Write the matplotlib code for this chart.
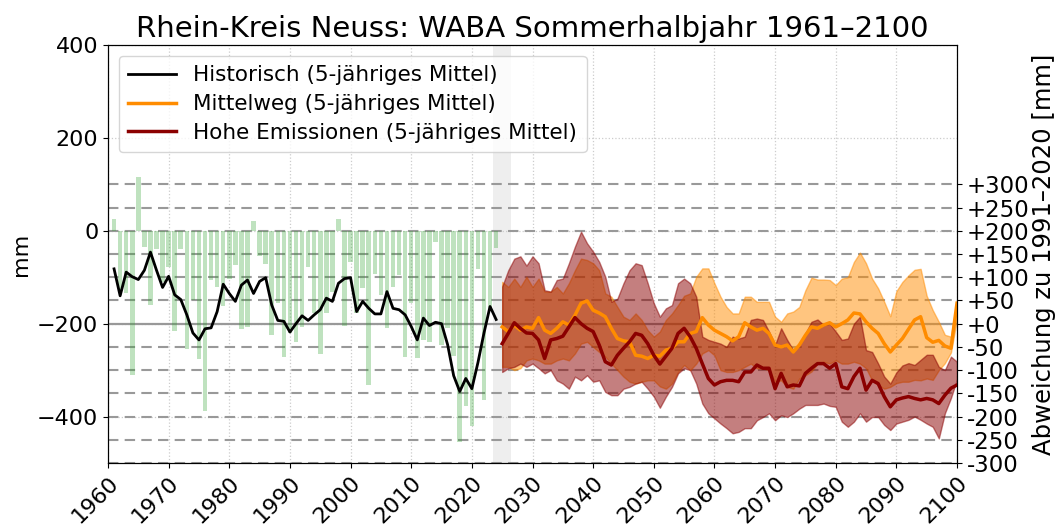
import numpy as np
import matplotlib
matplotlib.use("Agg")
import matplotlib.pyplot as plt

# ---------------- data ----------------
hist_years = list(range(1961, 2025))
hist_annual = [25, -135, -133, -311, 116, -36, -160, -40, -110, -79,
               -215, -40, -255, -150, -275, -387, -106, -121, -163, -103,
               -74, -211, -207, 21, -55, -72, -225, -156, -271, -220,
               -240, -207, -78, -177, -266, -177, -131, 26, -206, -67,
               -177, -124, -333, -92, -138, -209, -122, -95, -272, -155,
               -273, -235, -240, -25, -245, -209, -270, -454, -377, -420,
               -82, -365, -171, -37]
hist_mean5 = [-82, -140, -89, -99, -105, -85, -46, -85, -122, -98,
              -138, -148, -181, -220, -235, -211, -209, -174, -115, -135,
              -152, -117, -106, -135, -109, -101, -160, -193, -195, -218,
              -200, -183, -193, -181, -170, -145, -152, -113, -103, -101,
              -174, -152, -167, -179, -179, -131, -167, -170, -181, -206,
              -235, -188, -204, -197, -200, -245, -312, -346, -318, -340,
              -284, -220, -163, -191]

proj_years = list(range(2025, 2101))
mittel_mean = [-207, -217, -203, -214, -207, -210, -187, -214, -221, -210,
               -196, -203, -182, -156, -151, -171, -177, -185, -210, -232,
               -237, -239, -268, -270, -275, -268, -270, -257, -253, -239,
               -239, -221, -217, -187, -203, -214, -221, -228, -237, -228,
               -198, -207, -214, -210, -221, -246, -250, -246, -261, -246,
               -225, -207, -210, -203, -198, -207, -200, -192, -177, -179,
               -196, -210, -221, -243, -261, -246, -232, -212, -192, -185,
               -230, -240, -236, -248, -253, -156]
mittel_hi = [-110, -121, -103, -121, -99, -121, -103, -131, -131, -121,
             -135, -113, -85, -60, -63, -70, -85, -135, -142, -164,
             -185, -192, -178, -192, -214, -228, -217, -192, -178, -160,
             -140, -135, -99, -81, -81, -113, -142, -164, -178, -178,
             -142, -142, -153, -153, -153, -185, -196, -178, -174, -164,
             -128, -101, -105, -105, -106, -117, -103, -100, -67, -47,
             -70, -103, -124, -153, -184, -130, -110, -96, -84, -82,
             -140, -171, -196, -224, -228, -149]
mittel_lo = [-293, -293, -300, -296, -279, -275, -279, -286, -286, -279,
             -275, -279, -264, -243, -239, -250, -261, -271, -286, -300,
             -314, -325, -329, -325, -322, -322, -335, -340, -329, -304,
             -289, -300, -286, -264, -257, -268, -300, -304, -304, -300,
             -293, -286, -296, -296, -300, -325, -322, -336, -340, -318,
             -311, -303, -286, -282, -286, -279, -286, -286, -282, -286,
             -296, -322, -332, -340, -336, -328, -325, -325, -321, -322,
             -318, -321, -300, -285, -262, -190]
hohe_mean = [-243, -221, -198, -210, -220, -221, -235, -275, -235, -232,
             -227, -207, -187, -200, -210, -217, -246, -282, -289, -268,
             -253, -239, -221, -225, -243, -268, -287, -270, -253, -221,
             -210, -228, -253, -286, -318, -332, -325, -322, -322, -325,
             -304, -304, -289, -296, -296, -340, -307, -336, -332, -334,
             -307, -296, -286, -286, -296, -286, -336, -340, -314, -296,
             -343, -322, -329, -357, -379, -364, -360, -357, -361, -364,
             -361, -364, -372, -354, -339, -332]
hohe_hi = [-120, -85, -60, -55, -75, -55, -70, -128, -131, -106,
           -103, -70, -34, -2, -27, -45, -67, -99, -153, -146,
           -113, -85, -70, -74, -113, -156, -185, -167, -160, -113,
           -103, -113, -142, -228, -235, -239, -243, -250, -228, -232,
           -228, -192, -189, -192, -217, -246, -210, -235, -257, -246,
           -221, -196, -191, -203, -200, -217, -235, -232, -200, -185,
           -257, -261, -286, -314, -329, -305, -290, -285, -289, -278,
           -267, -267, -293, -300, -271, -282]
hohe_lo = [-304, -296, -293, -286, -293, -286, -296, -307, -300, -322,
           -329, -340, -314, -322, -311, -325, -322, -347, -354, -354,
           -340, -336, -329, -325, -340, -357, -381, -357, -336, -307,
           -296, -300, -329, -372, -393, -404, -415, -425, -436, -433,
           -425, -425, -408, -401, -393, -408, -397, -401, -393, -383,
           -375, -375, -375, -372, -377, -379, -411, -422, -411, -393,
           -411, -401, -401, -418, -429, -415, -411, -407, -400, -407,
           -415, -422, -447, -393, -360, -320]

xticks = list(range(1960, 2101, 10))
left_yticks = [-400, -200, 0, 200, 400]
ref_level = -200          # 1991-2020 reference -> "+0"
dev_ticks = list(range(-300, 301, 50))

# ---------------- figure ----------------
fig = plt.figure(figsize=(10.63, 5.32), dpi=100)
ax = fig.add_axes([108/1063, 1-463/532, (957-108)/1063, (463-45)/532])

ax.grid(True, linestyle=':', color='#cccccc', linewidth=0.9)
ax.set_axisbelow(True)

ax.axvspan(2023.5, 2026.5, color='#eeeeee', lw=0, zorder=0.5)

for d in dev_ticks:
    lvl = ref_level + d
    if d == 0:
        ax.axhline(lvl, color='#999999', lw=1.6, zorder=1)
    else:
        ax.axhline(lvl, color='#999999', lw=1.5, ls=(0, (5, 3)), zorder=1)

ax.bar(hist_years, hist_annual, width=0.75, color='#2ca02c', alpha=0.3,
       lw=0, zorder=1.5)

ax.fill_between(proj_years, mittel_lo, mittel_hi, color='darkorange',
                alpha=0.5, lw=1, zorder=2)
ax.fill_between(proj_years, hohe_lo, hohe_hi, color='darkred',
                alpha=0.5, lw=1, zorder=2.1)

ax.plot(hist_years, hist_mean5, color='black', lw=2,
        label='Historisch (5-jähriges Mittel)', zorder=3)
ax.plot(proj_years, mittel_mean, color='darkorange', lw=2.5,
        label='Mittelweg (5-jähriges Mittel)', zorder=3)
ax.plot(proj_years, hohe_mean, color='darkred', lw=2.5,
        label='Hohe Emissionen (5-jähriges Mittel)', zorder=3.1)

ax.set_xlim(1960, 2100)
ax.set_ylim(-500, 400)
ax.set_xticks(xticks)
ax.set_xticklabels([str(t) for t in xticks], rotation=45, ha='right',
                   rotation_mode='anchor')
ax.set_yticks(left_yticks)
ax.tick_params(axis='both', labelsize=16)
ax.set_ylabel('mm', fontsize=16)
ax.set_title('Rhein-Kreis Neuss: WABA Sommerhalbjahr 1961–2100', fontsize=21)

ax.legend(loc='upper left', fontsize=15.5, framealpha=0.8,
          borderpad=0.45, handlelength=2.2, labelspacing=0.4)

ax2 = ax.twinx()
ax2.set_ylim(-500 - ref_level, 400 - ref_level)
ax2.set_yticks(dev_ticks)
ax2.set_yticklabels([f"{d:+d}" for d in dev_ticks])
ax2.tick_params(axis='y', labelsize=16.5)
ax2.set_ylabel('Abweichung zu 1991–2020 [mm]', fontsize=17.5, labelpad=2)

fig.savefig('out.png', dpi=100)
